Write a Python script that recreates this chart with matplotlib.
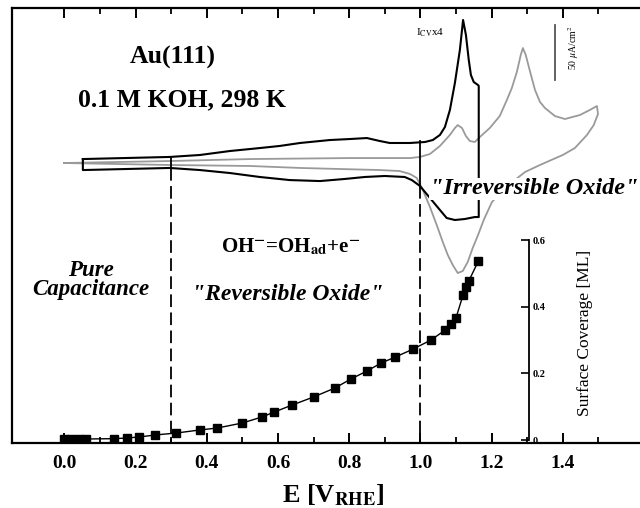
import matplotlib
matplotlib.use("Agg")
import matplotlib.pyplot as plt
from matplotlib.ticker import FixedLocator

plt.rcParams['mathtext.fontset'] = 'stix'
SERIF = ['Liberation Serif', 'DejaVu Serif']

# ---- data ----
# CV of Au(111) (I_CV x4), black loop: potential [V_RHE], current [uA/cm2]
cv_black_E = [0.052, 0.296, 0.381, 0.465, 0.549, 0.605, 0.662, 0.746, 0.802, 0.850, 0.886, 0.914,
              0.971, 1.013, 1.035, 1.055, 1.069, 1.083, 1.097, 1.111, 1.120, 1.128, 1.136, 1.142,
              1.150, 1.162, 1.164, 1.164,
              1.153, 1.125, 1.097, 1.074, 1.055, 1.027, 0.999, 0.976, 0.956, 0.900, 0.844, 0.788,
              0.718, 0.633, 0.549, 0.465, 0.381, 0.296, 0.052, 0.052]
cv_black_j = [3.6, 5.5, 7.3, 10.9, 13.6, 15.5, 18.2, 20.9, 21.8, 22.7, 20.0, 18.2,
              18.2, 19.1, 20.9, 25.5, 32.7, 48.2, 72.7, 102.7, 130.0, 116.4, 93.6, 80.0,
              73.6, 70.9, 70.0, -49.1,
              -49.1, -50.9, -51.8, -50.0, -42.7, -31.8, -20.9, -15.5, -12.7, -11.8, -12.7, -14.5,
              -16.4, -15.5, -12.7, -9.1, -6.4, -4.5, -6.4, 3.6]

# CV extended to 1.5 V, gray loop
cv_gray_E = [0.0, 0.296, 0.521, 0.802, 0.971, 0.999, 1.027, 1.055, 1.083, 1.097, 1.105, 1.117,
             1.128, 1.139, 1.153, 1.167, 1.195, 1.223, 1.243, 1.257, 1.271, 1.282, 1.288, 1.296,
             1.307, 1.322, 1.336, 1.350, 1.378, 1.406, 1.448, 1.476, 1.496,
             1.499, 1.487, 1.468, 1.434, 1.400, 1.336, 1.294, 1.237, 1.201, 1.178, 1.162, 1.147,
             1.133, 1.119, 1.105, 1.091, 1.077, 1.063, 1.046, 1.027, 1.007, 0.990, 0.971, 0.942,
             0.886, 0.662, 0.521, 0.296, 0.0]
cv_gray_j = [0.0, 1.8, 3.6, 4.5, 4.5, 5.5, 8.2, 15.5, 25.5, 31.8, 34.5, 31.8,
             24.5, 20.0, 19.1, 23.6, 31.8, 42.7, 57.3, 68.2, 82.7, 98.2, 104.5, 98.2,
             84.5, 66.4, 55.5, 50.0, 42.7, 40.0, 43.6, 48.2, 51.8,
             44.5, 34.5, 25.5, 13.6, 7.3, -1.8, -8.2, -22.7, -35.5, -51.8, -65.5, -77.3,
             -90.0, -98.2, -100.0, -92.7, -83.6, -71.8, -56.4, -40.0, -24.5, -13.6, -10.0, -7.3,
             -6.4, -4.5, -2.7, -1.8, 0.0]

# Surface coverage [ML]
cov_E = [0.0, 0.02, 0.04, 0.06, 0.14, 0.175, 0.21, 0.255, 0.315, 0.38, 0.43, 0.50, 0.555, 0.59,
         0.64, 0.70, 0.76, 0.805, 0.85, 0.89, 0.93, 0.98, 1.03, 1.07, 1.085, 1.10, 1.12, 1.128,
         1.136, 1.163]
cov_ML = [0.002, 0.002, 0.002, 0.003, 0.004, 0.006, 0.009, 0.015, 0.021, 0.030, 0.036, 0.051,
          0.069, 0.084, 0.105, 0.129, 0.156, 0.183, 0.207, 0.231, 0.249, 0.273, 0.300, 0.330,
          0.348, 0.366, 0.435, 0.459, 0.477, 0.537]

# region boundaries [V]
bound_E = [0.3, 1.0]
bound_top_j = [5.5, 19.6]
bound_bot_j = [-4.5, -20.5]

x_major = [0.0, 0.2, 0.4, 0.6, 0.8, 1.0, 1.2, 1.4]
x_major_labels = ['0.0', '0.2', '0.4', '0.6', '0.8', '1.0', '1.2', '1.4']
x_minor = [0.1, 0.3, 0.5, 0.7, 0.9, 1.1, 1.3, 1.5]
cov_ticks = [0.0, 0.2, 0.4, 0.6]
cov_labels = ['0', '0.2', '0.4', '0.6']
scale_bar_E = 1.378
scale_bar_j = [125.5, 75.5]

# ---- figure ----
W, H = 640, 508
fig = plt.figure(figsize=(6.4, 5.08), dpi=100)
ax = fig.add_axes([12 / W, 65 / H, 633 / W, 435 / H])
ax.set_xlim(-0.147, 1.631)
ax.set_ylim(-254.5, 140.9)

ax.plot(cv_gray_E, cv_gray_j, color='#9a9a9a', lw=1.3, zorder=2)
ax.plot(cv_black_E, cv_black_j, color='black', lw=1.5, zorder=3)

for e, jt, jb in zip(bound_E, bound_top_j, bound_bot_j):
    ax.plot([e, e], [jt, jb], color='black', lw=1.3, zorder=3)
    ax.plot([e, e], [jb, -254.5], color='black', lw=1.3, ls=(0, (7, 3)), zorder=3)

ax.plot([scale_bar_E, scale_bar_E], scale_bar_j, color='#555555', lw=1.3)

for s in ax.spines.values():
    s.set_linewidth(1.6)
ax.spines['right'].set_visible(False)
ax.xaxis.set_major_locator(FixedLocator(x_major))
ax.xaxis.set_minor_locator(FixedLocator(x_minor))
ax.set_xticklabels(x_major_labels, fontfamily=SERIF, fontweight='bold', fontsize=14)
ax.tick_params(axis='x', which='major', direction='in', top=True, length=7, width=1.4, pad=9)
ax.tick_params(axis='x', which='minor', direction='in', top=True, length=4.5, width=1.3)
ax.set_yticks([])

# coverage axis
ax2 = ax.twinx()
ax2.set_ylim(-0.009, 1.296)
ax2.plot(cov_E, cov_ML, color='black', lw=1.0, marker='s', ms=6.3, zorder=4)
for k in ['top', 'bottom', 'left']:
    ax2.spines[k].set_visible(False)
ax2.spines['right'].set_position(('data', 1.305))
ax2.spines['right'].set_bounds(0, 0.6)
ax2.spines['right'].set_linewidth(1.3)
ax2.set_yticks(cov_ticks)
ax2.set_yticklabels(cov_labels, fontfamily=SERIF, fontweight='bold', fontsize=7.5)
ax2.tick_params(axis='y', direction='in', length=6, width=1.2, pad=3)

# texts (figure pixel positions)
def ft(x, y, s, **kw):
    kw.setdefault('ha', 'center')
    kw.setdefault('va', 'center')
    kw.setdefault('fontfamily', SERIF)
    return fig.text(x / W, 1 - y / H, s, **kw)

ft(173, 57, 'Au(111)', fontsize=18.5, fontweight='bold')
ft(182, 100, '0.1 M KOH, 298 K', fontsize=18.5, fontweight='bold')
ft(430, 33, r'I$_{\rm CV}$x4', fontsize=8)
ft(574, 48, r'50 $\mu$A/cm$^{2}$', fontsize=7, rotation=90)
ft(430, 189, '"Irreversible Oxide"', ha='left', fontsize=17.5, fontweight='bold', style='italic',
   bbox=dict(fc='white', ec='none', pad=0.5), zorder=10)
ft(291, 247, r'OH$^{\mathbf{-}}$=OH$_{\mathbf{ad}}$+e$^{\mathbf{-}}$', fontsize=15, fontweight='bold')
ft(288, 294, '"Reversible Oxide"', fontsize=17, fontweight='bold', style='italic')
ft(91, 270, 'Pure', fontsize=16.5, fontweight='bold', style='italic')
ft(91, 290, 'Capacitance', fontsize=16.5, fontweight='bold', style='italic')
ft(585, 333, 'Surface Coverage [ML]', fontsize=12.5, rotation=90)
ft(333, 495, r'E [V$_{\mathbf{RHE}}$]', fontsize=19, fontweight='bold')

fig.savefig('out.png', dpi=100)
